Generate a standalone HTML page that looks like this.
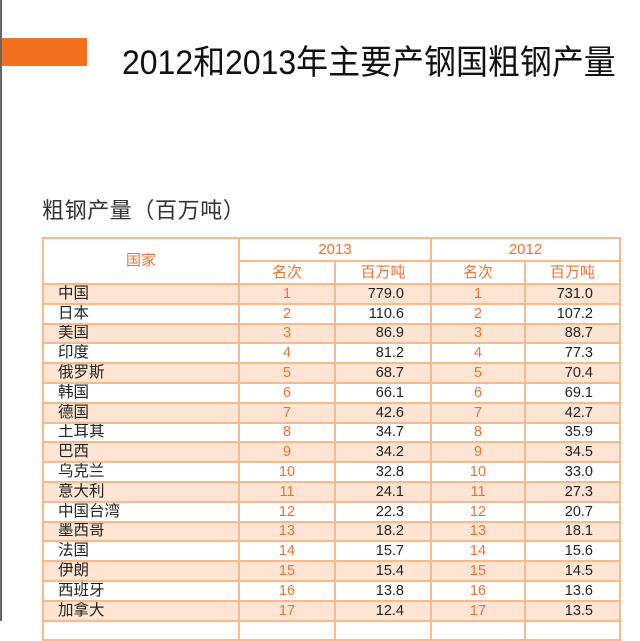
<!DOCTYPE html>
<html><head><meta charset="utf-8"><style>
html,body{margin:0;padding:0;width:640px;height:621px;overflow:hidden;background:#fff;font-family:"Liberation Sans","Noto Sans CJK SC",sans-serif;}
.lb{position:absolute;left:0;top:0;width:2px;height:621px;background:#666;}
.bar{position:absolute;left:2px;top:38px;width:85px;height:28px;background:#f37021;}
.title{position:absolute;left:122px;top:35px;font-size:34px;color:#111;white-space:nowrap;transform:scaleX(0.94);transform-origin:0 0;}
.sub{position:absolute;left:42px;top:193px;font-size:22px;color:#333;white-space:nowrap;letter-spacing:0.6px;}
table{position:absolute;left:42px;top:237px;border-collapse:collapse;table-layout:fixed;width:577px;}
td{border:2px solid #f9b98a;padding:0;font-size:14.5px;height:17.8px;line-height:16px;overflow:hidden;white-space:nowrap;}
.h td{color:#f07030;text-align:center;height:21px;font-size:15px;}
.c{padding-left:14px;color:#222;font-size:15.5px;}
.r{text-align:center;color:#f07030;}
.v{text-align:right;padding-right:26px;color:#222;}
tr.s td{background:#fde4d3;}
</style></head><body>
<div class="lb"></div><div class="bar"></div>
<div class="title">2012和2013年主要产钢国粗钢产量</div>
<div class="sub">粗钢产量（百万吨）</div>
<table>
<colgroup><col style="width:196px"><col style="width:96px"><col style="width:96px"><col style="width:94px"><col style="width:95px"></colgroup>
<tr class="h"><td rowspan="2">国家</td><td colspan="2">2013</td><td colspan="2">2012</td></tr>
<tr class="h"><td>名次</td><td>百万吨</td><td>名次</td><td>百万吨</td></tr>
<tr class="s"><td class="c">中国</td><td class="r">1</td><td class="v">779.0</td><td class="r">1</td><td class="v">731.0</td></tr>
<tr><td class="c">日本</td><td class="r">2</td><td class="v">110.6</td><td class="r">2</td><td class="v">107.2</td></tr>
<tr class="s"><td class="c">美国</td><td class="r">3</td><td class="v">86.9</td><td class="r">3</td><td class="v">88.7</td></tr>
<tr><td class="c">印度</td><td class="r">4</td><td class="v">81.2</td><td class="r">4</td><td class="v">77.3</td></tr>
<tr class="s"><td class="c">俄罗斯</td><td class="r">5</td><td class="v">68.7</td><td class="r">5</td><td class="v">70.4</td></tr>
<tr><td class="c">韩国</td><td class="r">6</td><td class="v">66.1</td><td class="r">6</td><td class="v">69.1</td></tr>
<tr class="s"><td class="c">德国</td><td class="r">7</td><td class="v">42.6</td><td class="r">7</td><td class="v">42.7</td></tr>
<tr><td class="c">土耳其</td><td class="r">8</td><td class="v">34.7</td><td class="r">8</td><td class="v">35.9</td></tr>
<tr class="s"><td class="c">巴西</td><td class="r">9</td><td class="v">34.2</td><td class="r">9</td><td class="v">34.5</td></tr>
<tr><td class="c">乌克兰</td><td class="r">10</td><td class="v">32.8</td><td class="r">10</td><td class="v">33.0</td></tr>
<tr class="s"><td class="c">意大利</td><td class="r">11</td><td class="v">24.1</td><td class="r">11</td><td class="v">27.3</td></tr>
<tr><td class="c">中国台湾</td><td class="r">12</td><td class="v">22.3</td><td class="r">12</td><td class="v">20.7</td></tr>
<tr class="s"><td class="c">墨西哥</td><td class="r">13</td><td class="v">18.2</td><td class="r">13</td><td class="v">18.1</td></tr>
<tr><td class="c">法国</td><td class="r">14</td><td class="v">15.7</td><td class="r">14</td><td class="v">15.6</td></tr>
<tr class="s"><td class="c">伊朗</td><td class="r">15</td><td class="v">15.4</td><td class="r">15</td><td class="v">14.5</td></tr>
<tr><td class="c">西班牙</td><td class="r">16</td><td class="v">13.8</td><td class="r">16</td><td class="v">13.6</td></tr>
<tr class="s"><td class="c">加拿大</td><td class="r">17</td><td class="v">12.4</td><td class="r">17</td><td class="v">13.5</td></tr>
<tr><td class="c">&nbsp;</td><td class="r"></td><td class="v"></td><td class="r"></td><td class="v"></td></tr>
</table>
</body></html>
